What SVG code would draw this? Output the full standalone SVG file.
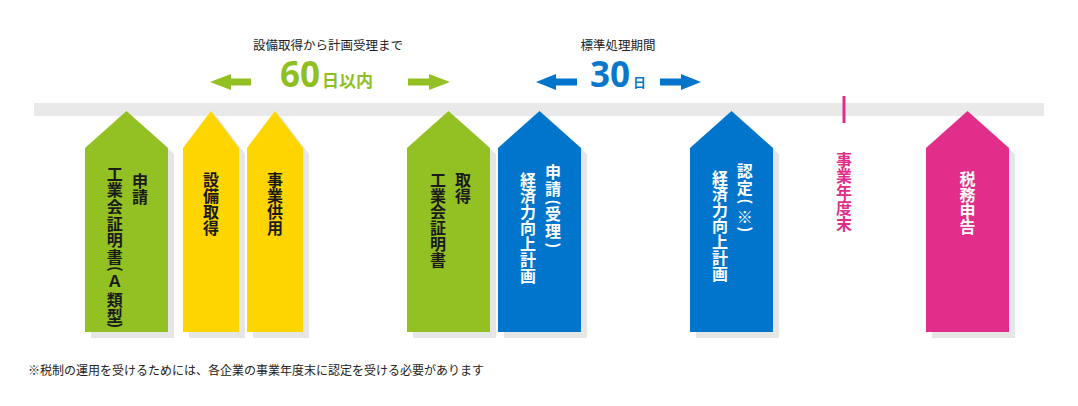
<svg xmlns="http://www.w3.org/2000/svg" width="1078" height="406" viewBox="0 0 1078 406">
<style>
.shadow{fill:#e6e6e6}
.green{fill:#93c022}
.yellow{fill:#ffd500}
.blue{fill:#0075cb}
.pink{fill:#e22e8b}
.v{font-family:"Noto Sans CJK JP","Noto Sans",sans-serif;font-weight:bold;writing-mode:vertical-rl;font-size:16px}
.h{font-family:"Noto Sans CJK JP","Noto Sans",sans-serif;font-weight:bold;font-size:16px}
.dk{fill:#1a1a1a}
.wt{fill:#ffffff}
.hd{font-family:"Noto Sans CJK JP","Noto Sans",sans-serif;font-size:12.5px;fill:#222;text-anchor:middle}
.note{font-family:"Noto Sans CJK JP","Noto Sans",sans-serif;font-size:12px;fill:#222}
</style>
<rect x="34" y="103" width="1010" height="13" fill="#e9e9e9"/>

<g id="header-60">
<text class="hd" x="328" y="49.5">設備取得から計画受理まで</text>
<text x="280" y="87" font-family="'Noto Sans','Noto Sans CJK JP',sans-serif" font-weight="bold" fill="#8fbf22"><tspan font-size="35">60</tspan><tspan font-size="17" dx="2" font-family="'Noto Sans CJK JP',sans-serif">日以内</tspan></text>
</g>
<g id="header-30">
<text class="hd" x="618" y="49.5">標準処理期間</text>
<text x="590" y="87" font-family="'Noto Sans','Noto Sans CJK JP',sans-serif" font-weight="bold" fill="#0a77cc"><tspan font-size="35">30</tspan><tspan font-size="13" dx="3" font-family="'Noto Sans CJK JP',sans-serif">日</tspan></text>
</g>

<g id="connectors">
<polygon class="green" points="210,82 231,74 231,78.5 251,78.5 251,85.5 231,85.5 231,90"/>
<polygon class="green" points="450,82 429,74 429,78.5 408,78.5 408,85.5 429,85.5 429,90"/>
<polygon class="blue" points="536,82 556,74 556,78.5 577,78.5 577,85.5 556,85.5 556,90"/>
<polygon class="blue" points="701,82 681,74 681,78.5 660,78.5 660,85.5 681,85.5 681,90"/>
</g>

<g id="node-apply-a">
<polygon class="shadow" points="91,154 132.5,117 174,154 174,338 91,338"/>
<polygon class="green" points="85,148 126.5,111 168,148 168,332 85,332"/>
<text class="v dk" x="140" y="173" font-size="16.5">申請</text>
<text class="h dk" font-size="16.5"><tspan x="106.75 106.75 106.75 106.75 106.75 106.75" y="179.5 196.2 212.9 229.6 246.3 263">工業会証明書</tspan><tspan font-size="15" x="110" y="266" rotate="90">(</tspan><tspan x="106.75 106.75 106.75" y="287 305.5 321.5">Ａ類型</tspan><tspan font-size="15" x="110" y="322.5" rotate="90">)</tspan></text>
</g>

<g id="node-equip">
<polygon class="shadow" points="189,154 217,117 245,154 245,338 189,338"/>
<polygon class="yellow" points="183,148 211,111 239,148 239,332 183,332"/>
<text class="v dk" x="211" y="172" font-size="17">設備取得</text>
</g>

<g id="node-use">
<polygon class="shadow" points="253,154 281,117 309,154 309,338 253,338"/>
<polygon class="yellow" points="247,148 275,111 303,148 303,332 247,332"/>
<text class="v dk" x="275" y="172" font-size="17">事業供用</text>
</g>

<g id="node-obtain">
<polygon class="shadow" points="413,154 454.5,117 496,154 496,338 413,338"/>
<polygon class="green" points="407,148 448.5,111 490,148 490,332 407,332"/>
<text class="v dk" x="463" y="172">取得</text>
<text class="v dk" x="438" y="172">工業会証明書</text>
</g>

<g id="node-apply-plan">
<polygon class="shadow" points="504,154 545.5,117 587,154 587,338 504,338"/>
<polygon class="blue" points="498,148 539.5,111 581,148 581,332 498,332"/>
<text class="h wt"><tspan x="545 545" y="178 195">申請</tspan><tspan font-size="15" x="548" y="199.5" rotate="90">(</tspan><tspan x="545 545" y="220 236.5">受理</tspan><tspan font-size="15" x="548" y="242.5" rotate="90">)</tspan></text>
<text class="v wt" x="528" y="172">経済力向上計画</text>
</g>

<g id="node-approve">
<polygon class="shadow" points="696,154 737.5,117 779,154 779,338 696,338"/>
<polygon class="blue" points="690,148 731.5,111 773,148 773,332 690,332"/>
<text class="h wt" font-size="16.5"><tspan x="736.75 736.75" y="176.5 193.5">認定</tspan><tspan font-size="15" x="740" y="198.5" rotate="90">(</tspan><tspan x="736.75" y="222.5">※</tspan><tspan font-size="15" x="740" y="226.5" rotate="90">)</tspan></text>
<text class="v wt" x="720" y="170">経済力向上計画</text>
</g>

<g id="node-yearend">
<rect x="842.5" y="96" width="3" height="27" class="pink"/>
<text class="v" x="844" y="152" font-size="19.5" fill="#e22e8b">事業年度末</text>
</g>

<g id="node-tax">
<polygon class="shadow" points="932,154 973.5,117 1015,154 1015,338 932,338"/>
<polygon class="pink" points="926,148 967.5,111 1009,148 1009,332 926,332"/>
<text class="v wt" x="967.5" y="171" font-size="18">税務申告</text>
</g>

<text class="note" x="28" y="375">※税制の運用を受けるためには、各企業の事業年度末に認定を受ける必要があります</text>
</svg>
